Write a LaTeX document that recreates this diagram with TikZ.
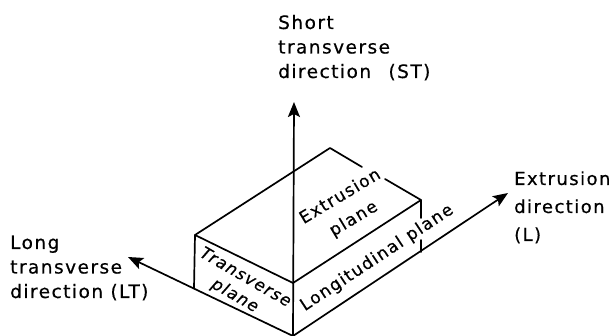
\documentclass[tikz,border=0pt]{standalone}
\usepackage{fontspec}
\setmainfont{DejaVu Sans}[LetterSpace=8,FakeBold=0.5]
\usetikzlibrary{arrows.meta}
\tikzset{
  edge/.style={line width=1.7pt,line cap=round,line join=round},
  arrowed/.style={edge,-{Stealth[length=15pt,width=12pt,inset=3pt]}},
  lab/.style={font=\fontsize{18.5}{24.5}\selectfont,align=left,inner sep=0pt,anchor=base west},
  plane/.style={font=\fontsize{17}{20}\selectfont,align=center,inner sep=0pt}
}
\begin{document}
\begin{tikzpicture}[x=1pt,y=-1pt]
\useasboundingbox (0,0) rectangle (613,336);
\coordinate (O) at (293,336);
\coordinate (F) at (293,283);
\coordinate (LB) at (194,288);
\coordinate (LT) at (195,235);
\coordinate (B) at (330,148);
\coordinate (BG1) at (362,167);
\coordinate (BG2) at (385,179);
\coordinate (RT) at (421,200);
\coordinate (RG1) at (421,218);
\coordinate (RG2) at (421,240);
\coordinate (RB) at (421,252);
\coordinate (TipST) at (294,102);
\coordinate (TipLT) at (128,257);
\coordinate (TipL) at (508,193);
\draw[arrowed] (O) -- (TipST);
\draw[arrowed] (O) -- (TipLT);
\draw[arrowed] (O) -- (TipL);
\draw[edge] (LB) -- (LT) -- (F) -- (RT) -- (RG1);
\draw[edge] (RG2) -- (RB);
\draw[edge] (LT) -- (B) -- (BG1);
\draw[edge] (BG2) -- (RT);
\node[lab] (st) at (278,78) {Short\\transverse\\direction\hspace{10pt} (ST)};
\node[lab,font=\fontsize{18}{28}\selectfont] (ext) at (514,241) {Extrusion\\direction\\(L)};
\node[lab] (lt) at (10,298) {Long\\transverse\\direction (LT)};
\node[plane,rotate=-30,font=\fontsize{16.5}{21}\selectfont\itshape] (tp) at (240,287) {Transverse\\plane};
\node[plane,rotate=31,font=\fontsize{17}{26}\selectfont] (ep) at (347,208) {Extrusion\\plane};
\node[plane,rotate=33.5] (lp) at (377,258) {Longitudinal plane};
\end{tikzpicture}
\end{document}
